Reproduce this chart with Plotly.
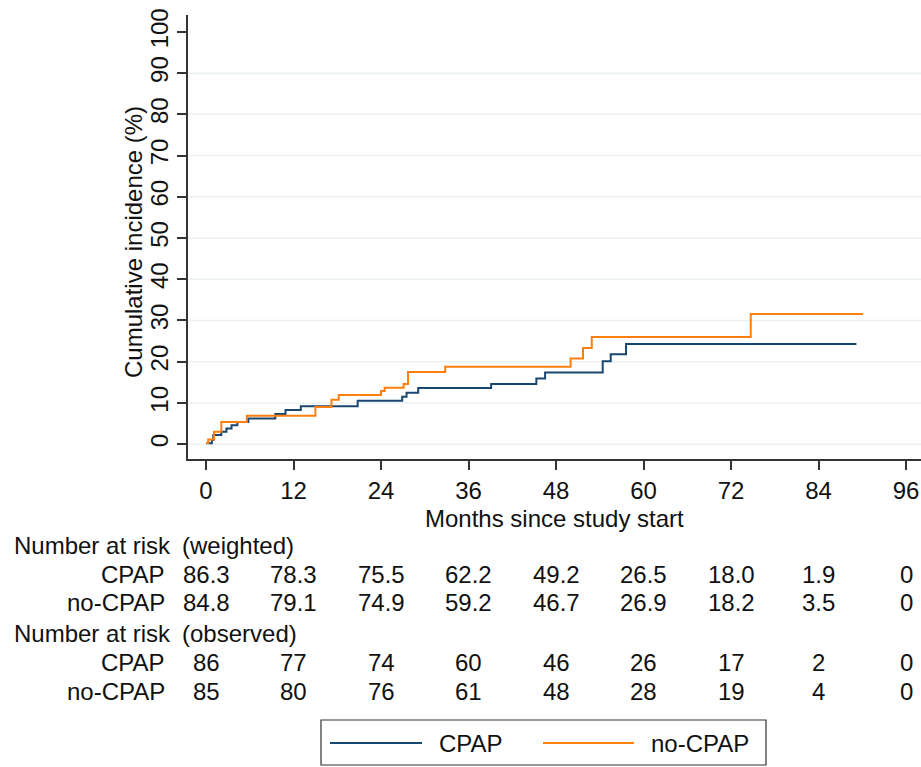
import plotly.graph_objects as go

# ---- data ----
cpap_t = [0, 0.8, 1.0, 2.1, 2.8, 3.5, 4.3, 5.8, 9.5, 10.9, 13.0, 20.8, 26.9, 27.5, 29.1,
          39.1, 45.3, 46.5, 54.4, 55.5, 57.6, 89.2]
cpap_v = [0.2, 1.0, 2.2, 3.0, 3.8, 4.6, 5.4, 6.2, 7.3, 8.3, 9.2, 10.5, 11.5, 12.5, 13.6,
          14.6, 15.9, 17.4, 20.1, 21.8, 24.3, 24.3]
nocpap_t = [0, 0.3, 1.1, 2.1, 5.6, 15.0, 17.2, 18.2, 24.0, 24.5, 27.1, 27.7, 32.8,
            50.0, 51.7, 52.9, 74.7, 90.1]
nocpap_v = [0.3, 1.1, 3.0, 5.4, 6.9, 9.0, 10.8, 11.9, 12.9, 13.7, 14.6, 17.5, 18.8,
            20.8, 23.3, 26.0, 31.6, 31.6]

x_ticks = [0, 12, 24, 36, 48, 60, 72, 84, 96]
y_ticks = [0, 10, 20, 30, 40, 50, 60, 70, 80, 90, 100]
grid_vals = [0, 10, 20, 30, 40, 50, 60, 70, 80, 90]

risk_w_cpap = ["86.3", "78.3", "75.5", "62.2", "49.2", "26.5", "18.0", "1.9", "0"]
risk_w_nocpap = ["84.8", "79.1", "74.9", "59.2", "46.7", "26.9", "18.2", "3.5", "0"]
risk_o_cpap = ["86", "77", "74", "60", "46", "26", "17", "2", "0"]
risk_o_nocpap = ["85", "80", "76", "61", "48", "28", "19", "4", "0"]

series_names = ["CPAP", "no-CPAP"]
colors = ["#1a476f", "#ff7f0e"]

FONT = "Liberation Sans, Arial, sans-serif"
FS = 24
TXT = "#111111"
AX = "#333333"

fig = go.Figure()
fig.add_trace(go.Scatter(x=cpap_t, y=cpap_v, mode="lines", line=dict(color=colors[0], width=2, shape="hv"),
                         name=series_names[0], showlegend=False))
fig.add_trace(go.Scatter(x=nocpap_t, y=nocpap_v, mode="lines", line=dict(color=colors[1], width=2, shape="hv"),
                         name=series_names[1], showlegend=False))

# plot area in pixels: left 188, right 921, top 15, bottom 459
W, H = 921, 767
L, R, T, B = 188, 921, 15, 459


def py(p):
    return (B - p) / (B - T)


def px(p):
    return (p - L) / (R - L)


shapes = []
for g in grid_vals:
    shapes.append(dict(type="line", xref="paper", yref="y", x0=0, x1=1, y0=g, y1=g,
                       line=dict(color="#eaf2f3", width=1.5), layer="below"))

annotations = []


def row_label(text, ypix):
    annotations.append(dict(text=text, xref="paper", yref="paper", x=px(167), y=py(ypix),
                            xanchor="right", yanchor="middle", showarrow=False,
                            font=dict(family=FONT, size=FS, color=TXT)))


def row_values(vals, ypix):
    for xv, t in zip(x_ticks, vals):
        annotations.append(dict(text=t, xref="x", yref="paper", x=xv, y=py(ypix),
                                xanchor="center", yanchor="middle", showarrow=False,
                                font=dict(family=FONT, size=FS, color=TXT)))


def header(ypix, sub):
    annotations.append(dict(text="Number at risk", xref="paper", yref="paper", x=px(12), y=py(ypix),
                            xanchor="left", yanchor="middle", showarrow=False,
                            font=dict(family=FONT, size=FS, color=TXT)))
    annotations.append(dict(text=sub, xref="paper", yref="paper", x=px(180), y=py(ypix),
                            xanchor="left", yanchor="middle", showarrow=False,
                            font=dict(family=FONT, size=FS, color=TXT)))


header(545, "(weighted)")
row_label("CPAP", 574)
row_values(risk_w_cpap, 574)
row_label("no-CPAP", 602)
row_values(risk_w_nocpap, 602)
header(633, "(observed)")
row_label("CPAP", 662)
row_values(risk_o_cpap, 662)
row_label("no-CPAP", 691)
row_values(risk_o_nocpap, 691)

# axis titles
annotations.append(dict(text="Months since study start", xref="paper", yref="paper", x=0.5, y=py(518),
                        xanchor="center", yanchor="middle", showarrow=False,
                        font=dict(family=FONT, size=FS, color=TXT)))
annotations.append(dict(text="Cumulative incidence (%)", xref="paper", yref="paper", x=px(133), y=py(242),
                        xanchor="center", yanchor="middle", showarrow=False, textangle=-90,
                        font=dict(family=FONT, size=FS, color=TXT)))

# legend box
shapes.append(dict(type="rect", xref="paper", yref="paper", x0=px(321), x1=px(766), y0=py(720), y1=py(765),
                   line=dict(color="#333333", width=1.2), fillcolor="white"))
leg_y = py(743)
shapes.append(dict(type="line", xref="paper", yref="paper", x0=px(330), x1=px(422), y0=leg_y, y1=leg_y,
                   line=dict(color=colors[0], width=2)))
shapes.append(dict(type="line", xref="paper", yref="paper", x0=px(543), x1=px(634), y0=leg_y, y1=leg_y,
                   line=dict(color=colors[1], width=2)))
annotations.append(dict(text=series_names[0], xref="paper", yref="paper", x=px(437), y=leg_y,
                        xanchor="left", yanchor="middle", showarrow=False,
                        font=dict(family=FONT, size=FS, color=TXT)))
annotations.append(dict(text=series_names[1], xref="paper", yref="paper", x=px(649), y=leg_y,
                        xanchor="left", yanchor="middle", showarrow=False,
                        font=dict(family=FONT, size=FS, color=TXT)))

fig.update_layout(
    width=W, height=H,
    margin=dict(l=L, r=W - R, t=T, b=H - B, pad=0),
    paper_bgcolor="white", plot_bgcolor="white",
    font=dict(family=FONT, size=FS, color=TXT),
    shapes=shapes, annotations=annotations,
    showlegend=False,
)
fig.update_xaxes(range=[-2.47, 98.05], tickvals=x_ticks, ticktext=[str(v) for v in x_ticks],
                 showgrid=False, zeroline=False, showline=True, linecolor=AX, linewidth=1.5,
                 ticks="outside", ticklen=9, tickwidth=1.5, tickcolor=AX,
                 tickfont=dict(family=FONT, size=FS, color=TXT))
fig.update_yaxes(range=[-3.6, 104.1], tickvals=y_ticks, ticktext=[str(v) for v in y_ticks],
                 showgrid=False, zeroline=False, showline=True, linecolor=AX, linewidth=1.5,
                 ticks="outside", ticklen=9, tickwidth=1.5, tickcolor=AX, tickangle=-90,
                 tickfont=dict(family=FONT, size=FS, color=TXT))

fig.write_html("out.html", config={"displayModeBar": False},
               post_script="document.body.style.margin='0';document.body.style.overflow='hidden';")
